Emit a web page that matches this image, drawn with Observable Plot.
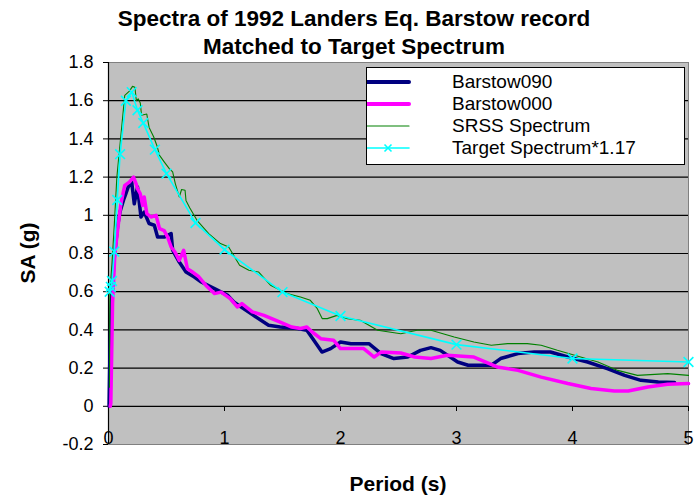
<!DOCTYPE html>
<html>
<head>
<meta charset="utf-8">
<script src="https://cdn.jsdelivr.net/npm/d3@7"></script>
<script src="https://cdn.jsdelivr.net/npm/@observablehq/plot@0.6"></script>
<style>
  html, body { margin: 0; padding: 0; background: #fff; }
  #wrap { position: relative; width: 699px; height: 502px; font-family: "Liberation Sans", Arial, sans-serif; overflow: hidden; }
  #wrap svg { position: absolute; left: 0; top: 0; }
  .ttl { position: absolute; font-weight: bold; color: #000; white-space: nowrap; }
  #legend { position: absolute; left: 366px; top: 67px; width: 317px; height: 96px; background: #fff; border: 1px solid #000; }
  .lrow { position: absolute; left: 0; height: 22px; font-size: 19px; line-height: 22px; white-space: nowrap; }
  .lrow svg { position: absolute; left: 37px; top: 0; }
  .lrow span { position: absolute; left: 85px; top: 0; }
</style>
</head>
<body>
<div id="wrap">
  <div class="ttl" id="t1" style="left:0;width:708px;text-align:center;top:6px;font-size:22.5px;">Spectra of 1992 Landers Eq. Barstow record</div>
  <div class="ttl" id="t2" style="left:0;width:708px;text-align:center;top:34px;font-size:22.5px;">Matched to Target Spectrum</div>
  <div class="ttl" id="xl" style="left:108px;width:580px;text-align:center;top:472px;font-size:21px;">Period (s)</div>
  <div class="ttl" id="yl" style="left:28px;top:253px;font-size:21px;transform:translate(-50%,-50%) rotate(-90deg);">SA (g)</div>
</div>
<script>
// ---- data ----
const seriesNames = ["Barstow090", "Barstow000", "SRSS Spectrum", "Target Spectrum*1.17"];
const seriesColors = ["#000080", "#FF00FF", "#008000", "#00FFFF"];

const b090T = [0.005,0.01,0.02,0.03,0.05,0.08,0.1,0.13,0.15,0.17,0.2,0.222,0.25,0.28,0.308,0.35,0.395,0.423,0.48,0.54,0.553,0.61,0.668,0.74,0.8,0.913,1.028,1.08,1.25,1.38,1.48,1.63,1.71,1.77,1.84,1.915,2.0,2.09,2.245,2.35,2.46,2.58,2.69,2.78,2.86,3.01,3.1,3.3,3.38,3.53,3.67,3.81,3.96,4.13,4.3,4.45,4.59,4.74,4.88];
const b090SA = [0,0.2,0.45,0.6,0.78,0.95,1.02,1.08,1.113,1.148,1.174,1.06,1.148,0.991,1.017,0.957,0.948,0.886,0.886,0.904,0.817,0.755,0.703,0.677,0.651,0.616,0.581,0.546,0.476,0.424,0.415,0.407,0.398,0.346,0.284,0.302,0.337,0.328,0.328,0.276,0.25,0.258,0.293,0.307,0.293,0.232,0.215,0.215,0.25,0.276,0.284,0.284,0.258,0.232,0.197,0.162,0.136,0.127,0.124];

const b000T = [0.015,0.02,0.035,0.055,0.078,0.107,0.14,0.18,0.216,0.237,0.25,0.274,0.294,0.308,0.33,0.366,0.41,0.44,0.48,0.51,0.54,0.573,0.61,0.648,0.68,0.725,0.78,0.84,0.913,0.97,1.05,1.11,1.15,1.24,1.34,1.48,1.58,1.655,1.71,1.756,1.83,1.94,2.0,2.2,2.29,2.35,2.52,2.64,2.78,2.92,3.15,3.35,3.53,3.73,3.96,4.16,4.36,4.48,4.65,4.82,5.0];
const b000SA = [0,0.015,0.54,0.8,0.92,1.06,1.157,1.174,1.2,1.166,1.14,1.113,1.052,1.096,1.009,0.991,1.0,0.93,0.92,0.886,0.834,0.808,0.764,0.817,0.72,0.703,0.677,0.633,0.59,0.598,0.564,0.52,0.538,0.494,0.476,0.441,0.415,0.407,0.415,0.389,0.354,0.346,0.302,0.302,0.258,0.284,0.279,0.258,0.25,0.267,0.258,0.206,0.188,0.153,0.119,0.093,0.08,0.08,0.101,0.115,0.119];

const srssT = [0.008,0.012,0.03,0.05,0.072,0.1,0.14,0.18,0.207,0.228,0.24,0.256,0.274,0.285,0.33,0.35,0.39,0.42,0.44,0.48,0.524,0.553,0.576,0.61,0.63,0.66,0.668,0.7,0.763,0.864,0.965,1.036,1.13,1.21,1.295,1.396,1.54,1.655,1.74,1.8,1.843,1.886,1.97,2.06,2.17,2.32,2.52,2.66,2.78,2.98,3.15,3.3,3.44,3.61,3.73,3.87,4.07,4.22,4.39,4.56,4.82,5.0];
const srssSA = [0.1,0.6,0.75,0.95,1.2,1.375,1.628,1.65,1.675,1.67,1.6,1.61,1.588,1.524,1.53,1.46,1.41,1.36,1.314,1.28,1.244,1.227,1.166,1.096,1.135,1.131,1.078,1.04,0.974,0.904,0.852,0.834,0.738,0.712,0.703,0.634,0.59,0.572,0.555,0.511,0.459,0.459,0.476,0.459,0.45,0.398,0.38,0.398,0.398,0.363,0.337,0.32,0.328,0.328,0.32,0.293,0.258,0.232,0.188,0.162,0.171,0.162];

const targetT = [0.01,0.02,0.03,0.05,0.075,0.1,0.15,0.2,0.25,0.3,0.4,0.5,0.75,1.0,1.5,2.0,3.0,4.0,5.0];
const targetSA = [0.6,0.625,0.656,0.81,1.08,1.32,1.6,1.645,1.55,1.483,1.344,1.218,0.96,0.82,0.598,0.473,0.323,0.25,0.232];

const xTicks = [0,1,2,3,4,5];
const yTicks = [-0.2,0,0.2,0.4,0.6,0.8,1,1.2,1.4,1.6,1.8];
const gridY = [0.2,0.4,0.6,0.8,1,1.2,1.4,1.6];

// ---- build tables ----
const toRows = (T, S) => T.map((t, i) => ({T: t, SA: S[i]}));
const b090 = toRows(b090T, b090SA);
const b000 = toRows(b000T, b000SA);
const srss = toRows(srssT, srssSA);
const target = toRows(targetT, targetSA);

const font = '"Liberation Sans", Arial, sans-serif';
const chart = Plot.plot({
  width: 699, height: 502,
  marginLeft: 108, marginRight: 11, marginTop: 62, marginBottom: 58,
  x: {domain: [0, 5]},
  y: {domain: [-0.2, 1.8]},
  style: {fontFamily: font, fontSize: "18px", background: "transparent", color: "#000"},
  marks: [
    Plot.frame({fill: "#c0c0c0", stroke: "#808080"}),
    Plot.ruleY(gridY, {stroke: "#000", strokeWidth: 1.2}),
    Plot.ruleY([0], {stroke: "#000", strokeWidth: 1.2}),
    Plot.ruleX([0], {stroke: "#000", strokeWidth: 1.2}),
    Plot.axisY(yTicks, {anchor: "left", tickSize: 5, tickPadding: 10, tickFormat: d => String(Math.round(d * 10) / 10), fontSize: 18, label: null}),
    Plot.axisX(xTicks, {anchor: "bottom", tickSize: 5, tickFormat: () => "", dy: -38, label: null}),
    Plot.axisX(xTicks, {anchor: "bottom", tickSize: 0, tickPadding: 0, tickFormat: d => String(d), dy: -13, fontSize: 18, label: null}),
    Plot.line(b090, {x: "T", y: "SA", stroke: seriesColors[0], strokeWidth: 3.5, strokeLinejoin: "round"}),
    Plot.line(b000, {x: "T", y: "SA", stroke: seriesColors[1], strokeWidth: 3.5, strokeLinejoin: "round"}),
    Plot.line(srss, {x: "T", y: "SA", stroke: seriesColors[2], strokeWidth: 1.1}),
    Plot.line(target, {x: "T", y: "SA", stroke: seriesColors[3], strokeWidth: 1.6}),
    Plot.dot(target, {x: "T", y: "SA", symbol: "times", r: 4.5, stroke: seriesColors[3], strokeWidth: 1.6})
  ]
});
const wrap = document.getElementById("wrap");
wrap.insertBefore(chart, wrap.firstChild);

// ---- legend ----
const legend = document.createElement("div");
legend.id = "legend";
const widths = [4, 4, 1.1, 1.6];
seriesNames.forEach((name, i) => {
  const row = document.createElement("div");
  row.className = "lrow";
  row.style.top = (3 + i * 22) + "px";
  const mk = i === 3 ? '<path d="M17.5,7.5 L24.5,14.5 M17.5,14.5 L24.5,7.5" stroke="' + seriesColors[i] + '" stroke-width="1.6"/>' : "";
  row.innerHTML = '<svg width="44" height="22"><line x1="0" x2="42" y1="11" y2="11" stroke="' + seriesColors[i] + '" stroke-width="' + widths[i] + '" stroke-linecap="round"/>' + mk + '</svg><span>' + name + '</span>';
  legend.appendChild(row);
});
wrap.appendChild(legend);
</script>
</body>
</html>
